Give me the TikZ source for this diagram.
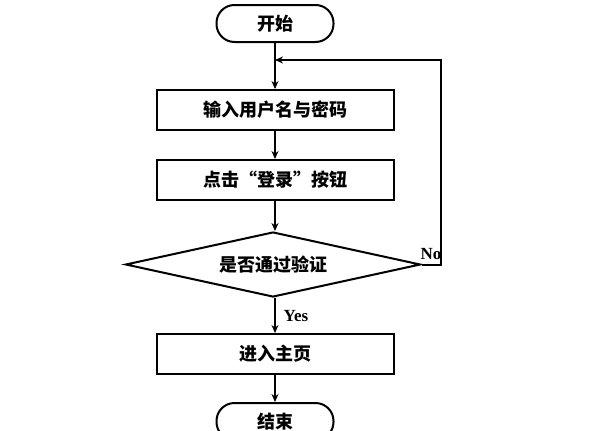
\documentclass[tikz,border=0pt]{standalone}
\usepackage{fontspec}
\setmainfont{Liberation Serif}
\newfontfamily\cjk{Noto Sans CJK SC}
\usetikzlibrary{shapes.geometric,arrows.meta}
\begin{document}
\begin{tikzpicture}[x=1pt,y=-1pt,
  lw/.style={line width=2pt},
  term/.style={lw,draw,rounded corners=18pt,minimum width=117pt,minimum height=37pt,inner sep=0pt,font=\cjk\bfseries\fontsize{18}{20}\selectfont},
  proc/.style={lw,draw,minimum width=237pt,minimum height=40pt,inner sep=0pt,font=\cjk\bfseries\fontsize{18}{20}\selectfont},
  dec/.style={lw,draw,diamond,aspect=4.5,minimum width=295pt,minimum height=65pt,inner sep=0pt,font=\cjk\bfseries\fontsize{18}{20}\selectfont},
  arr/.style={lw,-{Stealth[length=8pt,width=7pt]}},
  lab/.style={font=\bfseries\fontsize{17}{19}\selectfont,inner sep=0pt}]
\useasboundingbox (0,0) rectangle (600,431);
\node[term] (start) at (275,23.5) {开始};
\node[proc] (b1) at (275,110) {输入用户名与密码};
\node[proc] (b2) at (275,180) {点击“登录”按钮};
\node[dec] (d) at (273,264.5) {是否通过验证};
\node[proc] (b3) at (275,354) {进入主页};
\node[term] (end) at (275,421.5) {结束};
\coordinate (c) at (441,60);
\draw[arr] (start.south) -- (b1.north);
\draw[arr] (b1.south) -- (b2.north);
\draw[arr] (b2.south) -- (b2.south |- d.north);
\draw[arr] (b2.south |- d.south) -- (b3.north);
\draw[arr] (b3.south) -- (end.north);
\draw[arr] (d.east) -- (d.east -| c) -- (c) -- (c -| start);
\node[lab] (no) at (431,254) {No};
\node[lab] (yes) at (296,316) {Yes};
\end{tikzpicture}
\end{document}
